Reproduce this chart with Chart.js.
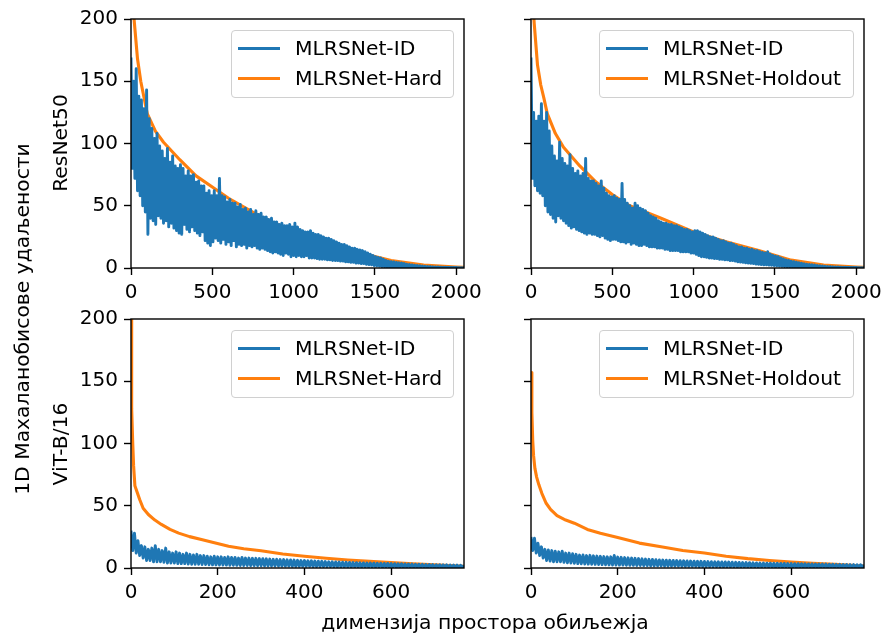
<!DOCTYPE html>
<html>
<head>
<meta charset="utf-8">
<script src="https://cdn.jsdelivr.net/npm/chart.js@4.4.0/dist/chart.umd.min.js"></script>
<style>
body{margin:0;background:#fff;width:885px;height:639px;position:relative;overflow:hidden;font-family:'DejaVu Sans',sans-serif;}
canvas{position:absolute;}
.lab{position:absolute;white-space:nowrap;font-size:20.3px;line-height:24px;color:#000;transform:translate(-50%,-50%);}
.rot{transform:translate(-50%,-50%) rotate(-90deg);}
.legend{position:absolute;height:68px;border:1px solid #d0d0d0;border-radius:4px;background:rgba(255,255,255,0.8);box-sizing:border-box;}
.legend .h{position:absolute;left:6px;width:42px;height:3px;}
.legend .t{position:absolute;left:63px;line-height:24px;font-size:20.3px;color:#000;white-space:nowrap;}
</style>
</head>
<body>
<canvas id="tl" width="500" height="310" style="left:0;top:0"></canvas>
<canvas id="tr" width="385" height="310" style="left:500px;top:0"></canvas>
<canvas id="bl" width="500" height="329" style="left:0;top:310px"></canvas>
<canvas id="br" width="385" height="329" style="left:500px;top:310px"></canvas>

<div class="legend" style="left:231px;top:30px;width:223px">
  <div class="h" style="top:15.5px;background:#1f77b4"></div><div class="t" style="top:5px">MLRSNet-ID</div>
  <div class="h" style="top:45.5px;background:#ff7f0e"></div><div class="t" style="top:35px">MLRSNet-Hard</div>
</div>
<div class="legend" style="left:599px;top:30px;width:255px">
  <div class="h" style="top:15.5px;background:#1f77b4"></div><div class="t" style="top:5px">MLRSNet-ID</div>
  <div class="h" style="top:45.5px;background:#ff7f0e"></div><div class="t" style="top:35px">MLRSNet-Holdout</div>
</div>
<div class="legend" style="left:231px;top:330px;width:223px">
  <div class="h" style="top:15.5px;background:#1f77b4"></div><div class="t" style="top:5px">MLRSNet-ID</div>
  <div class="h" style="top:45.5px;background:#ff7f0e"></div><div class="t" style="top:35px">MLRSNet-Hard</div>
</div>
<div class="legend" style="left:599px;top:330px;width:255px">
  <div class="h" style="top:15.5px;background:#1f77b4"></div><div class="t" style="top:5px">MLRSNet-ID</div>
  <div class="h" style="top:45.5px;background:#ff7f0e"></div><div class="t" style="top:35px">MLRSNet-Holdout</div>
</div>

<div class="lab rot" style="left:60px;top:143px">ResNet50</div>
<div class="lab rot" style="left:60px;top:444px">ViT-B/16</div>
<div class="lab rot" style="left:22px;top:319px">1D Махаланобисове удаљености</div>
<div class="lab" style="left:485px;top:622px">димензија простора обиљежја</div>

<script>
'use strict';

// ResNet50 rows: one sample every 8 dimensions (0..2048)
let resnetStep=8;
let resnetIdHard=[
  169,80,150,72,160,62,138,58, 135,50,128,45,143,27,120,40, 112,38,104,35,108,42,98,40, 94,36,88,38,96,33,85,36,
  90,32,82,30,80,28,83,27, 80,35,74,31,78,29,74,33, 75,30,69,28,70,26,66,29, 66,22,60,20,62,18,58,21,
  62,24,58,22,72,20,58,23, 57,19,53,21,55,18,52,22, 52,17,49,19,51,18,47,19, 48,16,45,18,47,17,43,18,
  46,16,43,15,44,16,41,15, 41,14,39,13,40,12,37,13, 37,12,35,11,36,10,34,12, 34,11,35,9,33,10,36,9,
  33,10,31,9,30,9,29,10, 29,8,30,8,28,8,27,7.5, 27,7,26,7,25,7,24,6.5, 24,6.5,23,6,22,6,21,6,
  20,5.5,19,5.5,19,5,18,5, 17,4.5,16,4.5,16,4,15,4, 14.5,3.5,14,3.5,13,3,12,2.8, 11,2.5,10,2,9,1.8,8.5,1.5,
  8,1.2,7,1,6,0.9,5.5,0.8, 5,0.7,4.8,0.6,4.5,0.6,4.2,0.5, 4,0.5,3.6,0.4,3,0.4,2.8,0.3, 2.5,0.3,2.2,0.3,2,0.2,1.8,0.2,
  1.5,0.2,1.4,0.2,1.2,0.1,1.1,0.1, 1,0.1,0.9,0.1,0.8,0.1,0.7,0.1, 0.6,0.1,0.6,0.1,0.5,0.1,0.5,0.1, 0.4,0.1,0.4,0.1,0.3,0.1,0.3,0.1,
  0.2];
let resnetIdHold=[
  169,72,125,66,118,62,122,60, 132,58,118,50,125,45,110,43, 98,40,90,37,86,42,101,40, 88,38,84,36,82,34,91,32,
  80,33,76,31,78,30,74,29, 76,28,88,27,72,28,70,27, 70,27,68,26,66,25,70,26, 64,24,60,23,58,22,57,23,
  58,23,56,22,55,21,68,21, 55,20,52,21,50,19,48,20, 52,19,50,18,48,18,47,19, 46,18,44,17,42,17,41,17,
  40,16,38,16,37,16,36,15, 36,15,35,14,35,14,34,14, 34,14,33,13,32,13,31,13, 31,13,30,12,29,12,30,11,
  30,10,29,9,28,9,27,8.5, 26,8,25,8,25,7.5,24,7.5, 23,7,22,7,22,6.5,21,6.5, 20,6,20,6,19,5.5,18,5,
  17,4.8,17,4.5,16,4.2,16,4, 15,3.8,15,3.5,14,3.2,14,3, 13,2.8,12.5,2.6,12,2.5,13,2.4, 11,2.2,10,2,9.5,1.8,9,1.5,
  8,1.4,7.2,1.2,6.5,1.1,6,1, 5.5,0.9,5,0.8,4.6,0.7,4.2,0.6, 3.8,0.5,3.4,0.5,3,0.4,2.8,0.4, 2.5,0.3,2.3,0.3,2,0.3,1.8,0.2,
  1.6,0.2,1.4,0.2,1.2,0.2,1.1,0.1, 1,0.1,0.9,0.1,0.8,0.1,0.7,0.1, 0.6,0.1,0.6,0.1,0.5,0.1,0.5,0.1, 0.4,0.1,0.4,0.1,0.3,0.1,0.3,0.1,
  0.2];
let resnetHardX=[0,10,20,40,60,80,100,150,200,300,400,500,600,800,1000,1200,1400,1600,1800,2000,2047];
let resnetHardY=[260,215,198,168,150,137,124,110,101,87,74,65,56,41,29,20,12.5,6,2.4,0.8,0.5];
let resnetHoldX=[0,10,20,40,60,80,100,150,200,300,400,500,600,800,1000,1200,1400,1600,1800,2000,2047];
let resnetHoldY=[260,215,196,163,147,136,124,108,97,82,69,59,50.5,40,29,21,14,6.3,2.4,0.8,0.5];
let resnetTicks=[0,500,1000,1500,2000];

// ViT-B/16 rows: one sample every 4 dimensions (0..768)
let vitStep=4;
let vitIdHard=[
  30,14,28,12,22,10,18,8, 17,6,15,6,16,5,18,5, 15,5,14,4.5,16,4,13,4, 12,4,13,3.5,12,3.5,11,3.5,
  12,3.2,11,3,10.5,3,11,3, 10,2.8,10,2.8,9.5,2.6,9,2.5, 9.5,2.5,9,2.4,9,2.4,8.5,2.3, 9,2.2,8.5,2.2,8.5,2.1,8,2,
  8.5,2,8,2,8,1.9,7.8,1.9, 7.8,1.8,7.6,1.8,7.5,1.7,7.4,1.7, 7.2,1.6,7,1.6,7,1.6,6.8,1.5, 6.8,1.5,6.6,1.5,6.5,1.4,6.4,1.4,
  6.2,1.4,6,1.3,6,1.3,5.8,1.3, 5.8,1.2,5.6,1.2,5.5,1.2,5.4,1.1, 5.2,1.1,5,1.1,5,1,4.9,1, 4.8,1,4.7,1,4.6,1,4.5,0.9,
  4.4,0.9,4.3,0.9,4.2,0.9,4.1,0.8, 4,0.8,4,0.8,3.9,0.8,3.8,0.8, 3.8,0.7,3.7,0.7,3.7,0.7,3.6,0.7, 3.5,0.6,3.4,0.6,3.4,0.6,3.3,0.6,
  3.2,0.6,3.1,0.5,3,0.5,3,0.5, 2.9,0.5,2.8,0.5,2.8,0.5,2.7,0.4, 2.6,0.4,2.6,0.4,2.5,0.4,2.5,0.4, 2.4,0.4,2.3,0.4,2.3,0.3,2.2,0.3,
  2.2];
let vitIdHold=[
  25,14,24,12,20,10,17,8, 15,6,14.5,5.5,14,5,13.5,5, 13,5,13.5,4.5,12,4.2,12,4, 11.5,3.8,11,3.5,10.4,3.4,10.5,3.2,
  10,3.1,10.2,3,9.8,2.9,9.6,2.8, 9.4,2.7,9.2,2.6,9,2.5,9,2.4, 10,2.4,8.8,2.3,8.6,2.3,8.4,2.2, 8.2,2.1,8,2.1,7.8,2,7.6,2,
  7.4,1.9,7.2,1.9,7,1.8,6.9,1.8, 6.7,1.7,6.5,1.7,6.4,1.6,6.3,1.6, 6.2,1.5,6.1,1.5,6,1.5,5.9,1.4, 5.8,1.4,5.7,1.3,5.6,1.3,5.5,1.3,
  5.4,1.2,5.4,1.2,5.3,1.2,5.2,1.1, 5.1,1.1,5,1.1,5,1,4.9,1, 4.9,1,4.8,1,4.7,1,4.6,0.9, 4.5,0.9,4.4,0.9,4.4,0.9,4.3,0.8,
  4.2,0.8,4.1,0.8,4,0.8,4,0.8, 3.9,0.8,3.9,0.7,3.8,0.7,3.8,0.7, 3.7,0.7,3.7,0.7,3.6,0.7,3.6,0.6, 3.5,0.6,3.5,0.6,3.4,0.6,3.4,0.6,
  3.3,0.6,3.3,0.5,3.2,0.5,3.2,0.5, 3.1,0.5,3.1,0.5,3,0.5,3,0.5, 2.9,0.5,2.9,0.4,2.8,0.4,2.8,0.4, 2.7,0.4,2.7,0.4,2.6,0.4,2.6,0.4,
  2.5];
let vitHardX=[0,1,2,4,6,9,14,20,28,40,55,70,90,110,135,160,190,225,260,300,350,400,450,500,550,600,650,700,768];
let vitHardY=[200,165,128,100,82,66,61,55,48,43,38.5,35,31,28,25.2,23,20.5,17.5,15.5,13.8,11.3,9.4,7.8,6.4,5.3,4.3,3.4,2.6,1.4];
let vitHoldX=[0,2,4,6,9,13,18,25,35,45,60,80,100,130,160,200,250,300,350,400,450,500,550,600,650,700,768];
let vitHoldY=[157,125,102,90,80,73,67,60,52,47,42,38.5,36,31,28,24.5,20,17,14,12,9.5,7.5,6,4.8,3.8,3,1.6];
let vitTicks=[0,200,400,600];

let yTicks=[0,50,100,150,200];

function stepPoints(ys,step){
  return ys.map(function(y,i){return {x:i*step,y:y};});
}
function xyPoints(xs,ys){
  return xs.map(function(x,i){return {x:x,y:ys[i]};});
}

Chart.defaults.font.family="'DejaVu Sans'";
Chart.defaults.font.size=20;
Chart.defaults.color='#000';

let frame={
  id:'frame',
  afterDatasetsDraw(chart){
    let a=chart.chartArea, ctx=chart.ctx;
    ctx.save();
    ctx.strokeStyle='#000';
    ctx.lineWidth=1.4;
    ctx.strokeRect(a.left,a.top,a.right-a.left,a.bottom-a.top);
    ctx.restore();
  }
};

function panel(id,o){
  let tickGrid={drawOnChartArea:false,drawTicks:true,tickLength:7,tickWidth:1.4,tickColor:'#000'};
  new Chart(document.getElementById(id),{
    type:'line',
    data:{datasets:[
      {label:'MLRSNet-ID',data:o.id,borderColor:'#1f77b4',borderWidth:2.9,clip:0},
      {label:o.otherLabel,data:o.other,borderColor:'#ff7f0e',borderWidth:3.1,clip:0}
    ]},
    options:{
      responsive:false,animation:false,events:[],
      layout:{padding:o.pad},
      plugins:{legend:{display:false},tooltip:{enabled:false}},
      elements:{point:{radius:0},line:{tension:0,borderJoinStyle:'round',borderCapStyle:'butt'}},
      scales:{
        x:{type:'linear',min:0,max:o.xMax,
          afterFit(s){s.height=36;s.paddingLeft=0;s.paddingRight=0;},
          afterBuildTicks(s){s.ticks=o.xTicks.map(function(v){return {value:v};});},
          ticks:{padding:6,maxRotation:0,autoSkip:false,callback:function(v){return String(v);}},
          grid:tickGrid,border:{display:false}},
        y:{type:'linear',min:0,max:200,
          afterFit(s){s.width=o.yw;s.paddingTop=0;s.paddingBottom=0;},
          afterBuildTicks(s){s.ticks=yTicks.map(function(v){return {value:v};});},
          ticks:{display:o.yLabels,padding:6,callback:function(v){return String(v);}},
          grid:tickGrid,border:{display:false}}
      }
    },
    plugins:[frame]
  });
}

panel('tl',{id:stepPoints(resnetIdHard,resnetStep),other:xyPoints(resnetHardX,resnetHardY),otherLabel:'MLRSNet-Hard',
  xMax:2048,xTicks:resnetTicks,yw:70,yLabels:true,pad:{left:61,top:19,right:36,bottom:6}});
panel('tr',{id:stepPoints(resnetIdHold,resnetStep),other:xyPoints(resnetHoldX,resnetHoldY),otherLabel:'MLRSNet-Holdout',
  xMax:2048,xTicks:resnetTicks,yw:20,yLabels:false,pad:{left:11,top:19,right:21,bottom:6}});
panel('bl',{id:stepPoints(vitIdHard,vitStep),other:xyPoints(vitHardX,vitHardY),otherLabel:'MLRSNet-Hard',
  xMax:768,xTicks:vitTicks,yw:70,yLabels:true,pad:{left:61,top:9,right:36,bottom:35}});
panel('br',{id:stepPoints(vitIdHold,vitStep),other:xyPoints(vitHoldX,vitHoldY),otherLabel:'MLRSNet-Holdout',
  xMax:768,xTicks:vitTicks,yw:20,yLabels:false,pad:{left:11,top:9,right:21,bottom:35}});
</script>
</body>
</html>
